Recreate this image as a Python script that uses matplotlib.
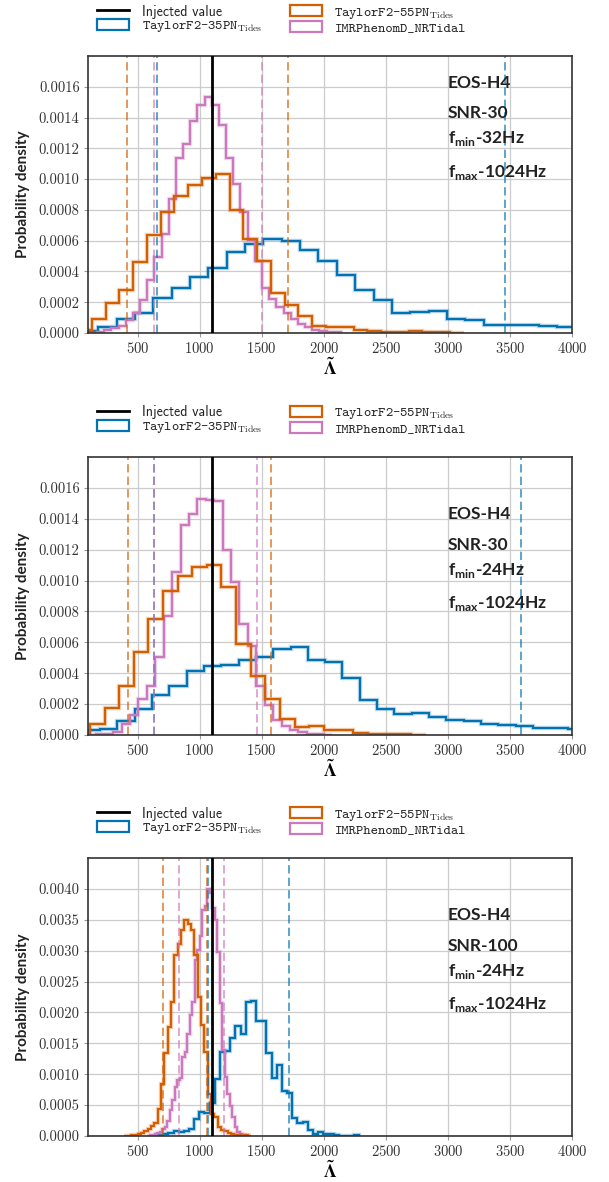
import numpy as np
import matplotlib
matplotlib.use('Agg')
import matplotlib.pyplot as plt
from matplotlib.lines import Line2D
from matplotlib.patches import Patch

plt.rcParams['font.family'] = 'cmr10'
plt.rcParams['mathtext.fontset'] = 'cm'
plt.rcParams['mathtext.bf'] = 'Lato:bold'
plt.rcParams['axes.formatter.use_mathtext'] = True

c_35 = '#0173b2'
c_55 = '#d55e00'
c_nr = '#cc78bc'

injected = 1100

# ---- panel 1 : SNR 30, fmin 32 Hz ----
p1_55_bins = (19, 111, 28)        # (first edge, width, n bins)
p1_55 = [0.00002, 0.000091, 0.000193, 0.00028, 0.00046, 0.000635, 0.000785, 0.000889,
         0.00096, 0.00101, 0.00103, 0.0008, 0.000614, 0.000466, 0.00026, 0.00018,
         0.000113, 0.000048, 0.00004, 0.000038, 0.000017, 0.000012, 0.000008, 0.000008,
         0.00001, 0.000006, 0.000004, 0.000002]
p1_nr_bins = (114.5, 57.8, 35)
p1_nr = [0.000003, 0.000007, 0.000017, 0.00003, 0.000048, 0.000087, 0.00013, 0.000217,
         0.000343, 0.000492, 0.000644, 0.000871, 0.001134, 0.00123, 0.001377, 0.001482,
         0.001536, 0.00148, 0.00135, 0.001135, 0.00097, 0.000785, 0.000607, 0.000466,
         0.00029, 0.000223, 0.000167, 0.00013, 0.000093, 0.00006, 0.00004, 0.000017,
         0.00001, 0.000006, 0.000004]
p1_35_bins = (35.3, 147.8, 27)
p1_35 = [0.000015, 0.000039, 0.000091, 0.00013, 0.000228, 0.000293, 0.000364, 0.000423,
         0.000529, 0.000579, 0.000609, 0.000596, 0.000538, 0.000466, 0.000375, 0.000278,
         0.000212, 0.00013, 0.000137, 0.000141, 0.000091, 0.000087, 0.000054, 0.000052,
         0.000054, 0.000048, 0.000039]
p1_bounds = {'35': [658, 3460], '55': [417, 1714], 'nr': [634, 1505]}
p1_text = ['EOS-H4', 'SNR-30', r'f$_{\mathbf{min}}$-32Hz', r'f$_{\mathbf{max}}$-1024Hz']

# ---- panel 2 : SNR 30, fmin 24 Hz ----
p2_55_bins = (-1.7, 117.7, 24)
p2_55 = [0.000013, 0.000071, 0.000175, 0.000316, 0.000535, 0.000753, 0.000929, 0.001028,
         0.001087, 0.001098, 0.000961, 0.000591, 0.000383, 0.00023, 0.000104, 0.000052,
         0.000058, 0.000032, 0.000035, 0.000013, 0.000008, 0.000006, 0.000004, 0.000003]
p2_nr_bins = (99.8, 67.8, 29)
p2_nr = [0.000002, 0.000004, 0.000009, 0.000022, 0.000069, 0.000128, 0.000236, 0.000318,
         0.000502, 0.000771, 0.001054, 0.001357, 0.001433, 0.00153, 0.001524, 0.001513,
         0.0012, 0.00099, 0.000717, 0.000576, 0.000316, 0.000193, 0.0001, 0.000056,
         0.000035, 0.000017, 0.000009, 0.000004, 0.000002]
p2_35_bins = (57.5, 139.5, 29)
p2_35 = [0.00003, 0.00004, 0.000089, 0.000171, 0.000258, 0.000318, 0.000416, 0.000446,
         0.00045, 0.000487, 0.000502, 0.000556, 0.000567, 0.000485, 0.000474, 0.00037,
         0.000227, 0.000169, 0.000134, 0.000139, 0.000117, 0.000095, 0.000091, 0.000074,
         0.000067, 0.000056, 0.000048, 0.000043, 0.000037]
p2_bounds = {'35': [635, 3587], '55': [425, 1575], 'nr': [630, 1459]}
p2_text = ['EOS-H4', 'SNR-30', r'f$_{\mathbf{min}}$-24Hz', r'f$_{\mathbf{max}}$-1024Hz']

# ---- panel 3 : SNR 100, fmin 24 Hz ----
p3_55_bins = (392.8, 26.86, 38)
p3_55 = [0.0, 0.000005, 0.000011, 0.000022, 0.000033, 0.000049, 0.000076, 0.000114,
         0.000157, 0.000206, 0.000439, 0.000835, 0.001344, 0.001767, 0.002173, 0.002932,
         0.003111, 0.003328, 0.003501, 0.003436, 0.003328, 0.002932, 0.002255, 0.001794,
         0.00136, 0.000683, 0.000358, 0.000304, 0.000141, 0.000098, 0.000076, 0.000043,
         0.000027, 0.000016, 0.000011, 0.000005, 0.00001, 0.000005]
p3_nr_bins = (578.1, 20.15, 40)
p3_nr = [0.000005, 0.000011, 0.000016, 0.000027, 0.000043, 0.00007, 0.000108, 0.000152,
         0.000249, 0.000423, 0.000575, 0.000791, 0.0009, 0.000943, 0.001279, 0.00136,
         0.001659, 0.001957, 0.002173, 0.002851, 0.003014, 0.00323, 0.003664, 0.003718,
         0.004, 0.003935, 0.003691, 0.003501, 0.002986, 0.002146, 0.001388, 0.000954,
         0.000683, 0.000493, 0.000304, 0.000141, 0.00006, 0.000033, 0.000011, 0.0]
p3_35_bins = (664, 41.6, 39)
p3_35 = [0.000011, 0.000032, 0.000043, 0.000086, 0.000065, 0.000086, 0.000108, 0.00027,
         0.000395, 0.000378, 0.00053, 0.000919, 0.001367, 0.001384, 0.001594, 0.001773,
         0.001654, 0.002162, 0.002178, 0.001854, 0.001854, 0.00134, 0.000935, 0.001151,
         0.000735, 0.000692, 0.000286, 0.000205, 0.000232, 0.000097, 0.000027, 0.000059,
         0.000027, 0.000027, 0.000011, 0.0, 0.0, 0.0, 0.000022]
p3_bounds = {'35': [1070, 1722], '55': [707, 1062], 'nr': [836, 1196]}
p3_text = ['EOS-H4', 'SNR-100', r'f$_{\mathbf{min}}$-24Hz', r'f$_{\mathbf{max}}$-1024Hz']

labels = ['Injected value', r'TaylorF2-35PN$_{\rm Tides}$',
          r'TaylorF2-55PN$_{\rm Tides}$', 'IMRPhenomD_NRTidal']


def edges(b):
    start, width, n = b
    return start + width * np.arange(n + 1)


def draw_panel(ax, h35, b35, h55, b55, hnr, bnr, bounds, texts, text_y, ymax, ystep):
    for h, b, c in [(h35, b35, c_35), (hnr, bnr, c_nr), (h55, b55, c_55)]:
        e = edges(b)
        ax.stairs(h, e, color=c, lw=3.2, alpha=0.25, baseline=0)
        ax.stairs(h, e, color=c, lw=1.6, baseline=0)
    for key, c in [('35', c_35), ('nr', c_nr), ('55', c_55)]:
        for v in bounds[key]:
            ax.axvline(v, color=c, ls=(0, (5, 2.5)), lw=1.2, alpha=0.75)
    ax.axvline(injected, color='k', lw=2, zorder=5)

    ax.set_xlim(100, 4000)
    ax.set_ylim(0, ymax)
    ax.set_xticks(np.arange(500, 4001, 500))
    ax.set_yticks(np.arange(0, ymax - ystep / 2, ystep))
    ax.yaxis.set_major_formatter(plt.FormatStrFormatter('%.4f'))
    ax.grid(True, color='#cccccc', lw=0.9)
    ax.set_axisbelow(True)
    for s in ax.spines.values():
        s.set_color('#333333')
        s.set_linewidth(1.2)
    ax.tick_params(length=3, width=0.8, color='#999999', labelsize=10.5,
                   labelcolor='#333333', pad=3)
    ax.set_ylabel('Probability density', family='Lato', weight='bold', fontsize=11,
                  color='#222222', labelpad=6)
    ax.set_xlabel(r'$\mathbf{\tilde{\Lambda}}$', math_fontfamily='stix', fontsize=13,
                  labelpad=0)

    tr = ax.get_xaxis_transform()
    for t, y in zip(texts, text_y):
        ax.text(3000, y, t, transform=tr, family='Lato', weight='bold', fontsize=12.5,
                color='#222222', va='baseline', math_fontfamily='custom')

    handles = [Line2D([], [], color='k', lw=2),
               Patch(facecolor='none', edgecolor=c_35, lw=1.6),
               Patch(facecolor='none', edgecolor=c_55, lw=1.6),
               Patch(facecolor='none', edgecolor=c_nr, lw=1.6)]
    leg = ax.legend(handles, labels, ncol=2, loc='lower center', bbox_to_anchor=(0.40, 1.043),
                    frameon=False, fontsize=10, handlelength=2.3, handleheight=0.8,
                    columnspacing=2.0, labelspacing=0.05, borderaxespad=0.3,
                    handletextpad=0.9)
    for i, t in enumerate(leg.get_texts()):
        t.set_family('cmss10' if i == 0 else 'cmtt10')
        t.set_color('#222222')


fig = plt.figure(figsize=(6.09, 11.82), dpi=100)
ax1 = fig.add_axes([0.1445, 0.7183, 0.795, 0.2343])
ax2 = fig.add_axes([0.1445, 0.3782, 0.795, 0.2352])
ax3 = fig.add_axes([0.1445, 0.0389, 0.795, 0.2352])

draw_panel(ax1, p1_35, p1_35_bins, p1_55, p1_55_bins, p1_nr, p1_nr_bins, p1_bounds,
           p1_text, [0.886, 0.777, 0.687, 0.564], 0.0018, 0.0002)
draw_panel(ax2, p2_35, p2_35_bins, p2_55, p2_55_bins, p2_nr, p2_nr_bins, p2_bounds,
           p2_text, [0.776, 0.664, 0.574, 0.455], 0.0018, 0.0002)
draw_panel(ax3, p3_35, p3_35_bins, p3_55, p3_55_bins, p3_nr, p3_nr_bins, p3_bounds,
           p3_text, [0.777, 0.665, 0.576, 0.456], 0.0045, 0.0005)

fig.savefig('out.png', dpi=100)
